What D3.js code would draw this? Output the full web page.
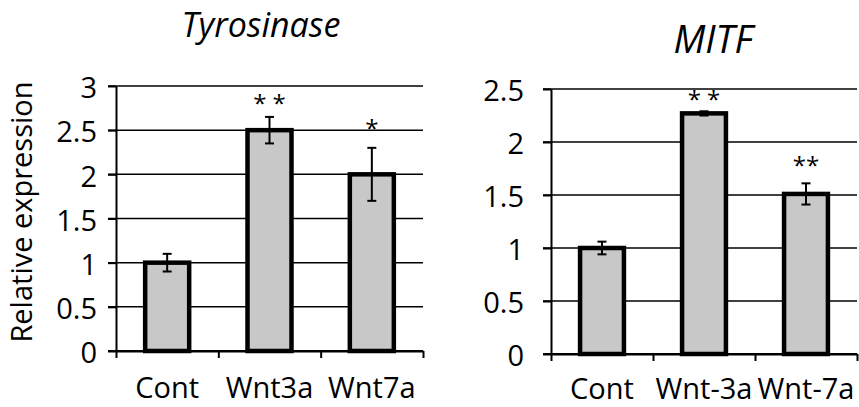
<!DOCTYPE html>
<html>
<head>
  <meta charset="utf-8">
  <title>Tyrosinase / MITF</title>
  <style>
    body { margin: 0; background: #fff; }
    text { font-family: 'Open Sans', 'Noto Sans', sans-serif; fill: #000; }
    .grid line { stroke: #000; stroke-width: 1.5; }
    .axis path, .axis line { fill: none; stroke: #000; stroke-width: 2; }
    .bar { fill: #c8c8c8; stroke: #000; stroke-width: 4.5; }
    .err { stroke: #000; stroke-width: 2; fill: none; }
  </style>
</head>
<body>
<script src="https://d3js.org/d3.v7.min.js"></script>
<script>
  var width = 859,
      height = 407;

  // Tyrosinase
  var tyrCategories = ['Cont', 'Wnt3a', 'Wnt7a'];
  var tyrValues = [1.0, 2.5, 2.0];
  var tyrErrors = [0.1, 0.15, 0.3];
  var tyrStars = ['', '* *', '*'];
  var tyrStarLevel = [0, 2.71, 2.42];
  var tyrTicks = [0, 0.5, 1, 1.5, 2, 2.5, 3];

  // MITF
  var mitfCategories = ['Cont', 'Wnt-3a', 'Wnt-7a'];
  var mitfValues = [1.0, 2.27, 1.51];
  var mitfErrors = [0.06, 0.02, 0.1];
  var mitfStars = ['', '* *', '**'];
  var mitfStarLevel = [0, 2.32, 1.70];
  var mitfTicks = [0, 0.5, 1, 1.5, 2, 2.5];

  var svg = d3.select('body')
    .append('svg')
    .attr('width', width)
    .attr('height', height);

  function drawChart(opt) {
    var g = svg.append('g');
    var n = opt.categories.length;

    var yScale = d3.scaleLinear()
      .domain([0, d3.max(opt.ticks)])
      .range([opt.bottom, opt.top]);

    var xScale = d3.scaleBand()
      .domain(opt.categories)
      .range([opt.left, opt.right])
      .paddingInner(0.57)
      .paddingOuter(0.285);

    // boundaries between categories, for the bottom ticks
    var edgeScale = d3.scaleLinear()
      .domain([0, n])
      .range([opt.left, opt.right]);

    // horizontal grid lines
    g.append('g')
      .attr('class', 'grid')
      .selectAll('line')
      .data(opt.ticks)
      .enter()
      .append('line')
      .attr('x1', opt.left - 8)
      .attr('x2', opt.right)
      .attr('y1', function(d) { return yScale(d); })
      .attr('y2', function(d) { return yScale(d); });

    // y axis
    var yAxis = d3.axisLeft(yScale)
      .tickValues(opt.ticks)
      .tickSize(8)
      .tickSizeOuter(0)
      .tickFormat('');
    g.append('g')
      .attr('class', 'axis')
      .attr('transform', 'translate(' + opt.left + ',0)')
      .call(yAxis);

    g.append('g')
      .selectAll('text')
      .data(opt.ticks)
      .enter()
      .append('text')
      .attr('x', opt.left - opt.labelGap)
      .attr('y', function(d) { return yScale(d); })
      .attr('dy', '0.42em')
      .attr('text-anchor', 'end')
      .style('font-size', '29px')
      .text(function(d) { return d; });

    // x axis
    var xAxis = d3.axisBottom(edgeScale)
      .tickValues(d3.range(n + 1))
      .tickSize(7)
      .tickSizeOuter(0)
      .tickFormat('');
    g.append('g')
      .attr('class', 'axis')
      .attr('transform', 'translate(0,' + opt.bottom + ')')
      .call(xAxis);

    g.append('line')
      .attr('x1', opt.left - 8)
      .attr('x2', opt.right)
      .attr('y1', opt.bottom)
      .attr('y2', opt.bottom)
      .attr('stroke', '#000')
      .attr('stroke-width', 2);

    g.append('g')
      .selectAll('text')
      .data(opt.categories)
      .enter()
      .append('text')
      .attr('x', function(d) { return xScale(d) + xScale.bandwidth() / 2; })
      .attr('y', opt.labelY)
      .attr('text-anchor', 'middle')
      .style('font-size', '29px')
      .text(function(d) { return d; });

    // bars
    g.append('g')
      .selectAll('rect')
      .data(opt.values)
      .enter()
      .append('rect')
      .attr('class', 'bar')
      .attr('x', function(d, i) { return xScale(opt.categories[i]); })
      .attr('width', xScale.bandwidth())
      .attr('y', function(d) { return yScale(d); })
      .attr('height', function(d) { return opt.bottom - yScale(d); });

    // error bars
    var errG = g.append('g');
    opt.values.forEach(function(v, i) {
      var cx = xScale(opt.categories[i]) + xScale.bandwidth() / 2;
      var e = opt.errors[i];
      var hi = yScale(v + e), lo = yScale(v - e);
      errG.append('line').attr('class', 'err')
        .attr('x1', cx).attr('x2', cx).attr('y1', hi).attr('y2', lo);
      errG.append('line').attr('class', 'err')
        .attr('x1', cx - 4.5).attr('x2', cx + 4.5).attr('y1', hi).attr('y2', hi);
      errG.append('line').attr('class', 'err')
        .attr('x1', cx - 4.5).attr('x2', cx + 4.5).attr('y1', lo).attr('y2', lo);
    });

    // significance stars
    g.append('g')
      .selectAll('text')
      .data(opt.stars)
      .enter()
      .append('text')
      .attr('x', function(d, i) { return xScale(opt.categories[i]) + xScale.bandwidth() / 2; })
      .attr('y', function(d, i) { return yScale(opt.starLevel[i]); })
      .attr('text-anchor', 'middle')
      .style('font-size', '24px')
      .text(function(d) { return d; });

    // title
    g.append('text')
      .attr('x', opt.titleX)
      .attr('y', opt.titleY)
      .attr('text-anchor', 'middle')
      .style('font-style', 'italic')
      .style('font-size', opt.titleSize)
      .text(opt.title);
  }

  drawChart({
    title: 'Tyrosinase', titleX: 261, titleY: 37, titleSize: '34px',
    categories: tyrCategories, values: tyrValues, errors: tyrErrors,
    stars: tyrStars, starLevel: tyrStarLevel, ticks: tyrTicks,
    left: 116, right: 423, top: 86, bottom: 351, labelGap: 19, labelY: 398
  });

  drawChart({
    title: 'MITF', titleX: 713, titleY: 53, titleSize: '38px',
    categories: mitfCategories, values: mitfValues, errors: mitfErrors,
    stars: mitfStars, starLevel: mitfStarLevel, ticks: mitfTicks,
    left: 551, right: 857, top: 89, bottom: 354, labelGap: 27, labelY: 399
  });

  // y axis title
  svg.append('text')
    .attr('transform', 'translate(32,212) rotate(-90)')
    .attr('text-anchor', 'middle')
    .style('font-size', '29px')
    .text('Relative expression');
</script>
</body>
</html>
